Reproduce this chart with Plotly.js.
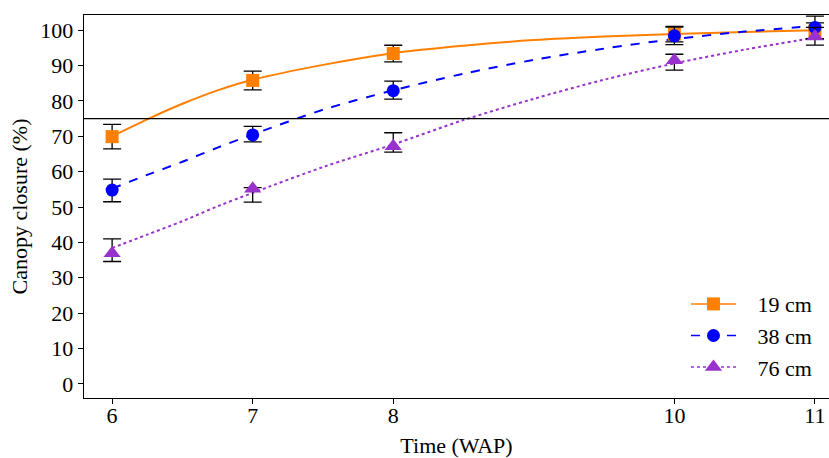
<!DOCTYPE html>
<html><head><meta charset="utf-8">
<script src="https://cdn.plot.ly/plotly-3.0.1.min.js"></script>
<style>html,body{margin:0;padding:0;background:#fff}#chart{width:829px;height:458px}</style>
</head><body><div id="chart"></div>
<script>
// Observed means (points) and error bars
const weeks = [6, 7, 8, 10, 11];
const mean19 = [69.9, 85.8, 93.4, 98.9, 99.8];
const errUp19 = [3.45, 2.65, 2.35, 2.2, 2.3];
const errDn19 = [3.45, 2.65, 2.35, 2.2, 2.3];
const mean38 = [54.8, 70.4, 82.9, 98.4, 100.8];
const errUp38 = [3.1, 2.4, 2.7, 2.5, 3.2];
const errDn38 = [3.3, 2.0, 2.4, 2.5, 3.2];
const mean76 = [36.9, 55.2, 67.2, 91.5, 98.2];
const errUp76 = [4.1, 0.3, 3.8, 1.7, 2.6];
const errDn76 = [2.3, 3.8, 1.7, 2.8, 2.4];

// Fitted curves
const curveX = [6, 6.25, 6.5, 6.75, 7, 7.5, 8, 8.5, 9, 9.5, 10, 10.5, 11];
const curve19 = [70.0, 74.8, 79.2, 83.0, 86.0, 90.2, 93.5, 95.6, 97.2, 98.2, 98.9, 99.5, 100.0];
const curve38 = [55.2, 59.1, 62.8, 66.8, 70.5, 77.5, 83.0, 87.7, 91.6, 94.8, 97.5, 99.6, 101.2];
const curve76 = [38.4, 42.2, 46.0, 50.2, 54.0, 61.3, 67.7, 74.6, 80.6, 86.0, 90.6, 94.5, 97.9];

const tickVals = [6, 7, 8, 10, 11];
const yTicks = [0, 10, 20, 30, 40, 50, 60, 70, 80, 90, 100];
const refLine = 75;
const labels = ['19 cm', '38 cm', '76 cm'];

const styles = [
  {color: '#FF7F00', dash: 'solid', symbol: 'square', size: 13},
  {color: '#0000FF', dash: 'dash', symbol: 'circle', size: 13},
  {color: '#9932CC', dash: 'dot', symbol: 'triangle-up', size: 15}
];
const means = [mean19, mean38, mean76];
const ups = [errUp19, errUp38, errUp76];
const dns = [errDn19, errDn38, errDn76];
const curves = [curve19, curve38, curve76];

const traces = [];
for (let i = 0; i < 3; i++) {
  const s = styles[i];
  traces.push({x: curveX, y: curves[i], mode: 'lines', type: 'scatter', showlegend: false,
    line: {color: s.color, dash: s.dash, width: 2, shape: 'spline', smoothing: 0.9}, hoverinfo: 'skip'});
}
for (let i = 0; i < 3; i++) {
  const s = styles[i];
  traces.push({x: weeks, y: means[i], mode: 'markers', type: 'scatter', showlegend: false,
    marker: {color: s.color, symbol: s.symbol, size: s.size, line: {width: 0}},
    error_y: {type: 'data', symmetric: false, array: ups[i], arrayminus: dns[i],
      color: '#000', thickness: 1.3, width: 9}});
}
const pad = '\u00a0\u00a0\u00a0';
for (let i = 0; i < 3; i++) {
  const s = styles[i];
  traces.push({x: [null], y: [null], mode: 'lines+markers', type: 'scatter', name: pad + labels[i],
    legendgroup: 'g' + i,
    line: {color: s.color, dash: s.dash, width: 1.5},
    marker: {color: s.color, symbol: s.symbol, size: s.size}});
}

const FONT = "'Liberation Serif', 'Times New Roman', Times, serif";
const layout = {
  width: 829, height: 458,
  margin: {l: 84, r: 0, t: 15, b: 60},
  paper_bgcolor: '#fff', plot_bgcolor: '#fff',
  font: {family: FONT, size: 22, color: '#000'},
  xaxis: {range: [5.8, 11.1], tickvals: tickVals, ticktext: tickVals.map(String),
    showgrid: false, zeroline: false, showline: true, linecolor: '#000', linewidth: 1.3,
    mirror: true, ticks: 'outside', ticklen: 5, tickcolor: '#000', tickwidth: 1,
    ticklabelstandoff: -8,
    tickfont: {family: FONT, size: 22}, title: {text: 'Time (WAP)', font: {family: FONT, size: 22}, standoff: 22}},
  yaxis: {range: [-4, 104.3], tickvals: yTicks, showgrid: false, zeroline: false,
    showline: true, linecolor: '#000', linewidth: 1.3, ticks: 'outside', ticklen: 5,
    tickcolor: '#000', tickwidth: 1, tickfont: {family: FONT, size: 22},
    title: {text: 'Canopy closure (%)', font: {family: FONT, size: 22}, standoff: 6}},
  shapes: [{type: 'line', xref: 'paper', x0: 0, x1: 1, yref: 'y', y0: refLine, y1: refLine,
    line: {color: '#000', width: 1.3}}],
  showlegend: true,
  legend: {x: 0.808, y: 0.30, xanchor: 'left', yanchor: 'top', bgcolor: 'rgba(0,0,0,0)',
    font: {family: FONT, size: 22}, tracegroupgap: 0, itemwidth: 45}
};

Plotly.newPlot('chart', traces, layout, {displayModeBar: false, staticPlot: true});
</script></body></html>
